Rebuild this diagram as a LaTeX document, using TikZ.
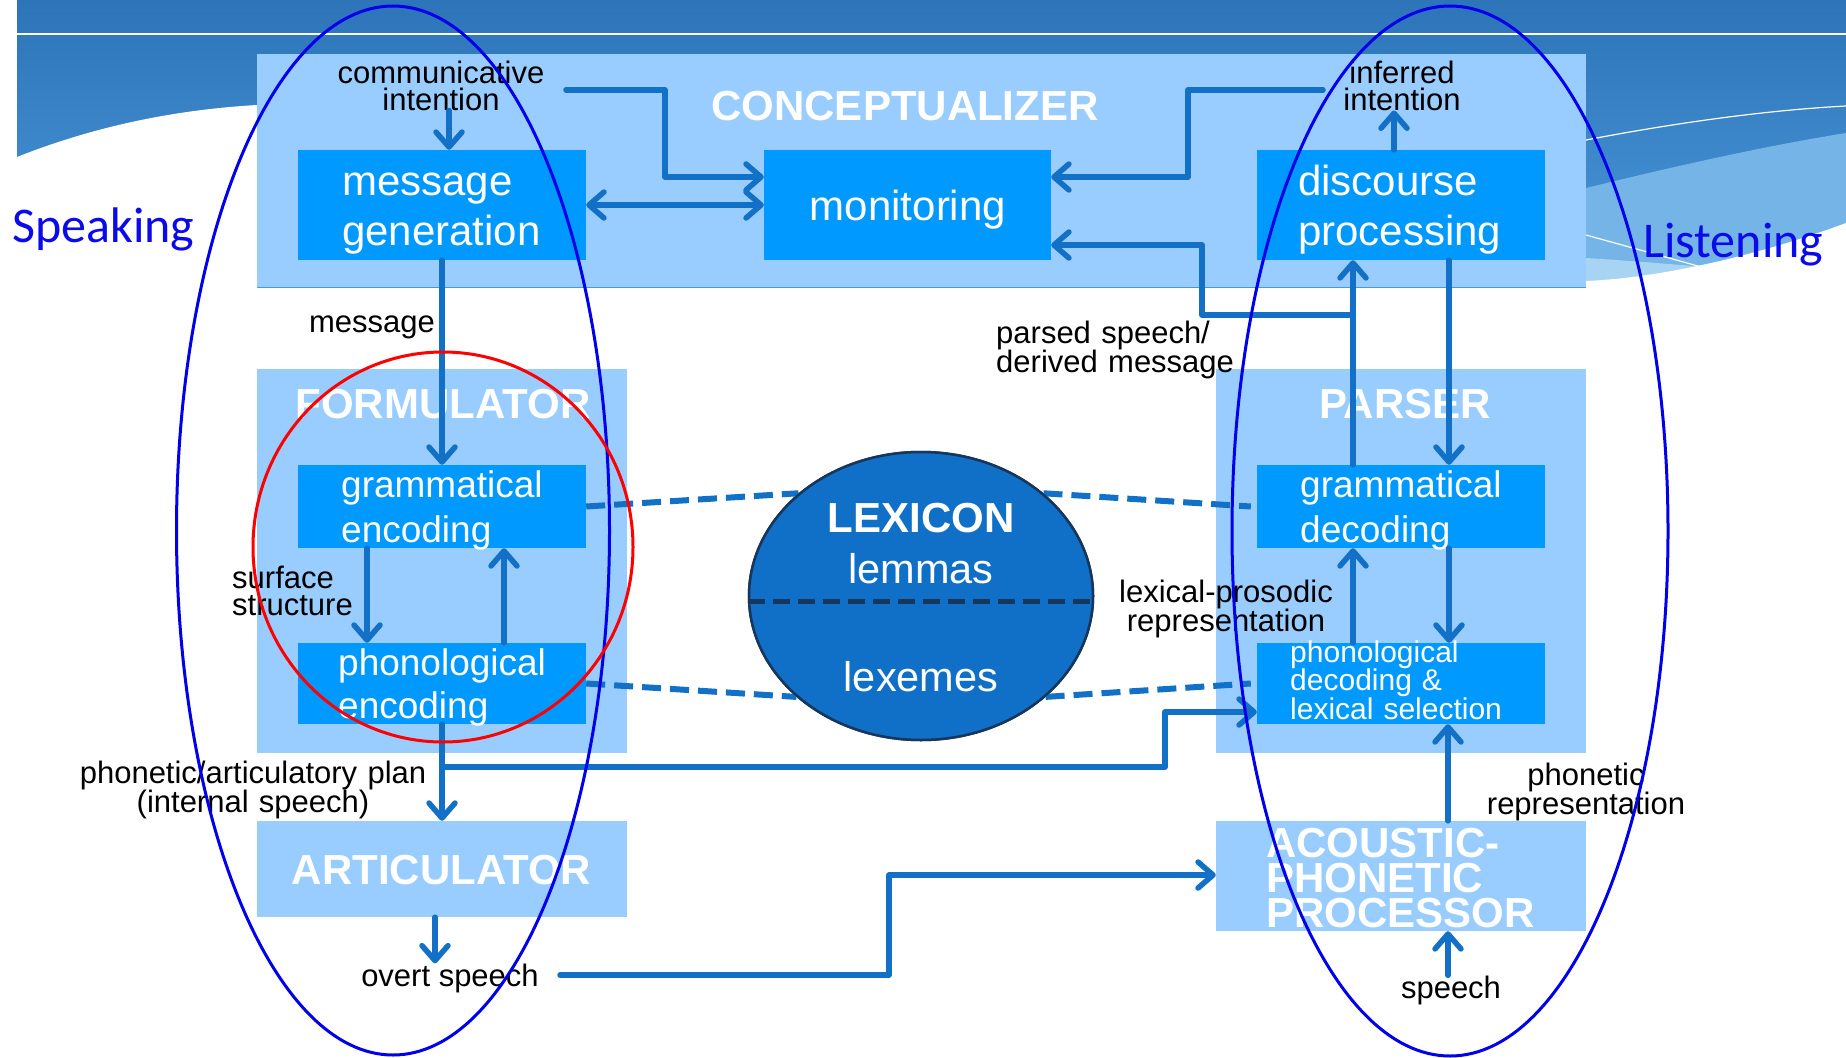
\documentclass[tikz,border=0pt]{standalone}
\usepackage{fontspec}
\setmainfont{Liberation Sans}
\newfontfamily\spkfont{Carlito}
\usetikzlibrary{arrows.meta,shapes.geometric,calc}
\definecolor{lightbox}{RGB}{153,204,255}
\definecolor{innerbox}{RGB}{0,153,255}
\definecolor{arrowc}{RGB}{18,112,198}
\definecolor{lexfill}{RGB}{16,111,198}
\definecolor{lexline}{RGB}{22,54,92}
\definecolor{bannertop}{RGB}{45,116,184}
\definecolor{bannerbot}{RGB}{74,152,218}
\definecolor{bandone}{RGB}{116,180,230}
\definecolor{bandtwo}{RGB}{168,212,243}
\definecolor{ringblue}{RGB}{0,0,235}
\definecolor{labelblue}{RGB}{10,10,235}
\setlength{\lineskiplimit}{-200pt}
\begin{document}
\begin{tikzpicture}[x=1pt,y=-1pt,
  outerbox/.style={rectangle, fill=lightbox, draw=none, inner sep=0pt},
  innerbx/.style={rectangle, fill=innerbox, draw=none, inner sep=0pt},
  head/.style={font=\bfseries\fontsize{42}{35}\selectfont, text=white, inner sep=0pt, anchor=base},
  wt/.style={text=white, inner sep=0pt, anchor=base west, align=left, text width=280pt},
  lab/.style={font=\fontsize{31}{27}\selectfont, text=black, inner sep=0pt, anchor=base},
  conn/.style={draw=arrowc, line width=5.5pt, line join=round, line cap=round},
  dashc/.style={draw=arrowc, line width=6pt, dash pattern=on 19pt off 9pt},
  >={Straight Barb[length=15pt,width=26pt,round]}
]
\useasboundingbox (0,0) rectangle (1846,1057);
\fill[white] (0,0) rectangle (1846,1057);
% background banner
\shade[top color=bannertop, bottom color=bannerbot] (17,0) rectangle (1846,287);
\fill[bandone] (1586,188) .. controls (1680,165) and (1770,145) .. (1846,133) -- (1846,287) -- (1586,287) -- cycle;
\fill[bandtwo] (1586,258) .. controls (1650,262) and (1690,266) .. (1720,268) -- (1720,287) -- (1586,287) -- cycle;
\fill[white] (1586,281) .. controls (1660,278) and (1760,255) .. (1846,223) -- (1846,290) -- (1586,290) -- cycle;
\fill[white] (17,157) .. controls (90,128) and (170,110) .. (257,105) -- (257,290) -- (17,290) -- cycle;
\draw[white, line width=2.5pt] (17,34) -- (1846,34);
\draw[white, line width=1.2pt] (1586,140) .. controls (1680,122) and (1770,110) .. (1846,106);
\draw[white, line width=1.2pt] (1586,235) -- (1705,268);

% outer boxes
\node[outerbox, minimum width=1329pt, minimum height=233pt] (concept) at (921.5,170.5) {};
\node[outerbox, minimum width=370pt, minimum height=384pt] (formul) at (442,561) {};
\node[outerbox, minimum width=370pt, minimum height=384pt] (parser) at (1401,561) {};
\node[outerbox, minimum width=370pt, minimum height=96pt] (artic) at (442,869) {};
\node[outerbox, minimum width=370pt, minimum height=110pt] (acoustic) at (1401,876) {};

% inner boxes
\node[innerbx, minimum width=288pt, minimum height=110pt] (msg) at (442,205) {};
\node[innerbx, minimum width=287pt, minimum height=110pt] (monitor) at (907.5,205) {};
\node[innerbx, minimum width=288pt, minimum height=110pt] (discourse) at (1401,205) {};
\node[innerbx, minimum width=288pt, minimum height=83pt] (genc) at (442,506.5) {};
\node[innerbx, minimum width=288pt, minimum height=81pt] (penc) at (442,683.5) {};
\node[innerbx, minimum width=288pt, minimum height=83pt] (gdec) at (1401,506.5) {};
\node[innerbx, minimum width=288pt, minimum height=81pt] (pdec) at (1401,683.5) {};

% headings
\node[head] (hconcept) at (905,120) {CONCEPTUALIZER};
\node[head] (hformul) at (443,418) {FORMULATOR};
\node[head] (hparser) at (1405,418) {PARSER};
\node[head] (hartic) at (441.5,884) {ARTICULATOR};
\node[head, anchor=base west, align=left, text width=320pt] (hacoustic) at (1266,857) {ACOUSTIC-\\PHONETIC\\PROCESSOR};

% box texts
\node[wt, font=\fontsize{42}{50}\selectfont] (tmsg) at (342,195) {message\\generation};
\node[wt, font=\fontsize{42}{50}\selectfont] (tdisc) at (1298,195) {discourse\\processing};
\node[text=white, inner sep=0pt, anchor=base, font=\fontsize{42}{50}\selectfont] (tmon) at (908,220) {monitoring};
\node[wt, font=\fontsize{37}{45}\selectfont] (tgenc) at (341,497) {grammatical\\encoding};
\node[wt, font=\fontsize{37}{43}\selectfont] (tpenc) at (338,675) {phonological\\encoding};
\node[wt, font=\fontsize{37}{45}\selectfont] (tgdec) at (1300,497) {grammatical\\decoding};
\node[wt, font=\fontsize{30}{27.5}\selectfont] (tpdec) at (1290,662) {phonological\\decoding \&\\lexical selection};

% black labels
\node[lab, text width=300pt, align=center] (ci) at (441,83) {communicative\\intention};
\node[lab, text width=300pt, align=center] (ii) at (1402,83) {inferred\\intention};
\node[lab, anchor=base east] (lmsg) at (435,332) {message};
\node[lab, anchor=base west, text width=300pt, align=left] (lparsed) at (996,343) {parsed speech/\\derived message};
\node[lab, anchor=base west, text width=200pt, align=left] (lsurf) at (232,588) {surface\\structure};
\node[lab, text width=300pt, align=center] (llexpro) at (1226,602) {lexical-prosodic\\representation};
\node[lab, text width=420pt, align=center, font=\fontsize{31}{28}\selectfont] (lplan) at (253,783) {phonetic/articulatory plan\\(internal speech)};
\node[lab] (overt) at (450,986) {overt speech};
\node[lab] (speech) at (1451,998) {speech};
\node[lab, text width=300pt, align=center] (lphonrep) at (1586,785) {phonetic\\representation};

% connectors
\coordinate (ciout) at (566,90);
\coordinate (iiout) at (1323,90);
\coordinate (ovout) at (560,975);
\coordinate (jn) at (1353,315);
\draw[conn,->] (ci.south -| 449,0) -- (msg.north -| 449,0);
\draw[conn,->] (ciout) -| (665,177) -- (monitor.west |- 0,177);
\draw[conn,<->] (msg.east) -- (monitor.west);
\draw[conn,->] (iiout) -| (1188,177) -- (monitor.east |- 0,177);
\draw[conn,->] (discourse.north -| 1394,0) -- (ii.south -| 1394,0);
\draw[conn,->] (msg.south) -- (genc.north);
\draw[conn,->] (genc.south -| 367,0) -- (penc.north -| 367,0);
\draw[conn,->] (penc.north -| 504,0) -- (genc.south -| 504,0);
\draw[conn,->] (penc.south) -- (artic.north);
\draw[conn,->] (penc.south |- 0,767) -| (1165,712) -- (pdec.west |- 0,712);
\draw[conn,->] (artic.south -| 435,0) -- (overt.north -| 435,0);
\draw[conn,->] (ovout) -| (889,875) -- (acoustic.west |- 0,875);
\draw[conn,->] (speech.north -| 1448,0) -- (acoustic.south -| 1448,0);
\draw[conn,->] (acoustic.north -| 1448,0) -- (pdec.south -| 1448,0);
\draw[conn,->] (pdec.north -| 1353,0) -- (gdec.south -| 1353,0);
\draw[conn,->] (gdec.north -| 1353,0) -- (discourse.south -| 1353,0);
\draw[conn,->] (jn) -| (1202,245) -- (monitor.east |- 0,245);
\draw[conn,->] (discourse.south -| 1449,0) -- (gdec.north -| 1449,0);
\draw[conn,->] (gdec.south -| 1449,0) -- (pdec.north -| 1449,0);

% lexicon
\node[ellipse, fill=lexfill, draw=lexline, line width=2.5pt, minimum width=344pt, minimum height=288pt, inner sep=0pt] (lex) at (921,596) {};
\draw[dashc] (genc.east) -- (lex.140);
\draw[dashc] (penc.east) -- (lex.219);
\draw[dashc] (lex.40) -- ([xshift=-6pt]gdec.west);
\draw[dashc] (lex.321) -- ([xshift=-6pt]pdec.west);
\node[ellipse, fill=lexfill, draw=lexline, line width=2.5pt, minimum width=344pt, minimum height=288pt, inner sep=0pt] (lexb) at (921,596) {};
\draw[lexline, line width=5pt, dash pattern=on 17pt off 8pt] ([yshift=-5pt]lexb.west) -- ([yshift=-5pt]lexb.east);
\node[head] (tlex) at (921,532) {LEXICON};
\node[text=white, inner sep=0pt, anchor=base, font=\fontsize{41.5}{45}\selectfont] (tlem) at (921,583) {lemmas};
\node[text=white, inner sep=0pt, anchor=base, font=\fontsize{41.5}{45}\selectfont] (tlexm) at (921,691) {lexemes};

% annotation rings
\draw[ringblue, line width=3pt] (393,530.5) ellipse [x radius=216.5, y radius=524.5];
\draw[ringblue, line width=3pt] (1450,531) ellipse [x radius=218, y radius=525];
\draw[red, line width=3pt] (443,547) ellipse [x radius=190, y radius=195];
\node[font=\spkfont\fontsize{50}{50}\selectfont, text=labelblue, anchor=base west, inner sep=0pt] (spk) at (12,242) {Speaking};
\node[font=\spkfont\fontsize{50}{50}\selectfont, text=labelblue, anchor=base west, inner sep=0pt] (lst) at (1643,257) {Listening};
\end{tikzpicture}
\end{document}
